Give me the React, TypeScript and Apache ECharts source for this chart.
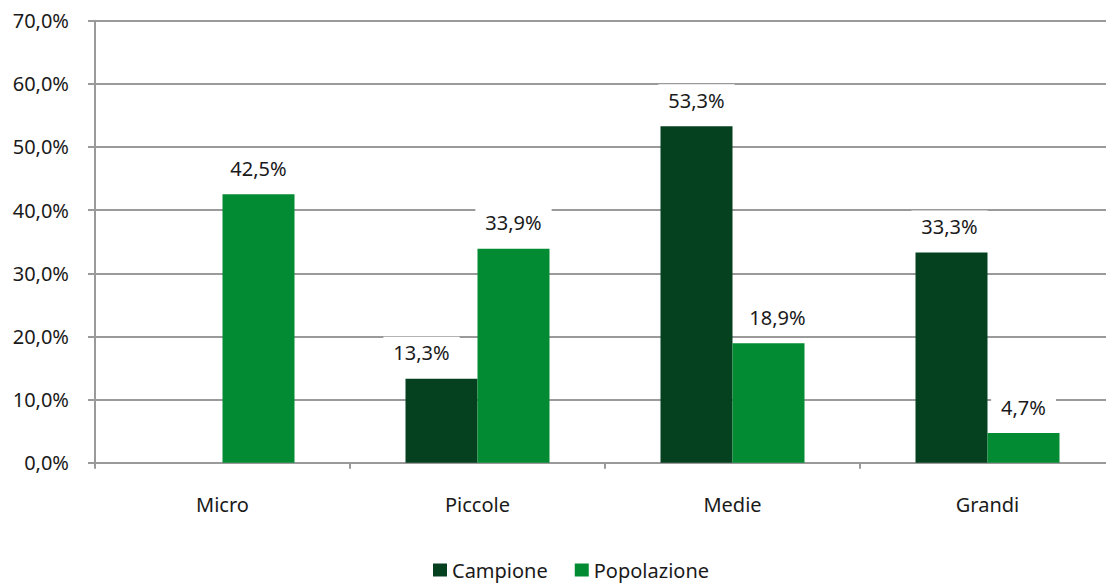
import React, { useEffect, useRef } from "react";
import * as echarts from "echarts";

const categories = ["Micro", "Piccole", "Medie", "Grandi"];
const campione: (number | null)[] = [null, 13.3, 53.3, 33.3];
const popolazione: number[] = [42.5, 33.9, 18.9, 4.7];
const seriesNames = ["Campione", "Popolazione"];
const yTicks = { min: 0, max: 70, interval: 10 };

const COLORS = ["#05401F", "#038B33"];
const FONT = "Noto Sans";
const fmt = (v: number) => v.toFixed(1).replace(".", ",") + "%";

// label horizontal shifts (style only)
const campioneShift = [0, -20, 0, -2];
const popolazioneShift = [0, 0, 9, 0];

export default function App() {
  const ref = useRef<HTMLDivElement>(null);
  useEffect(() => {
    document.body.style.margin = "0";
    const chart = echarts.init(ref.current!, null, { renderer: "svg" });
    const labelBase = {
      show: true,
      position: "top" as const,
      distance: 10,
      fontFamily: FONT,
      fontSize: 20,
      color: "#1a1a1a",
      backgroundColor: "#ffffff",
      padding: [6, 10],
      formatter: (p: any) => fmt(p.value),
    };
    const mk = (vals: (number | null)[], shift: number[]) =>
      vals.map((v, i) => ({
        value: v,
        label: { offset: [shift[i], 0] },
      }));
    chart.setOption({
      animation: false,
      textStyle: { fontFamily: FONT },
      grid: { left: 95, right: 2, top: 20.7, bottom: 122.3, containLabel: false },
      legend: {
        data: seriesNames,
        left: 428,
        top: 555,
        itemWidth: 14,
        itemHeight: 13,
        itemGap: 27,
        icon: "rect",
        textStyle: { fontFamily: FONT, fontSize: 20, color: "#1a1a1a" },
      },
      xAxis: {
        type: "category",
        data: categories,
        axisLine: { lineStyle: { color: "#9a9a9a", width: 2 } },
        axisTick: { show: true, length: 6, alignWithLabel: false, lineStyle: { color: "#9a9a9a", width: 2 } },
        axisLabel: { fontFamily: FONT, fontSize: 20, color: "#1a1a1a", margin: 32 },
      },
      yAxis: {
        type: "value",
        min: yTicks.min,
        max: yTicks.max,
        interval: yTicks.interval,
        axisLine: { show: true, lineStyle: { color: "#9a9a9a", width: 2 } },
        axisTick: { show: true, length: 7, lineStyle: { color: "#9a9a9a", width: 2 } },
        splitLine: { show: true, lineStyle: { color: "#9a9a9a", width: 2 } },
        axisLabel: {
          fontFamily: FONT,
          fontSize: 20,
          color: "#1a1a1a",
          margin: 26,
          formatter: (v: number) => fmt(v),
        },
      },
      series: [
        {
          name: seriesNames[0],
          type: "bar",
          data: mk(campione, campioneShift),
          barWidth: 72,
          barGap: "0%",
          itemStyle: { color: COLORS[0] },
          label: labelBase,
        },
        {
          name: seriesNames[1],
          type: "bar",
          data: mk(popolazione, popolazioneShift),
          barWidth: 72,
          barGap: "0%",
          itemStyle: { color: COLORS[1] },
          label: labelBase,
        },
      ],
    });
    return () => chart.dispose();
  }, []);
  return (
    <div style={{ width: 1106, height: 585, overflow: "hidden" }}>
      <div ref={ref} style={{ width: 1117, height: 585 }} />
    </div>
  );
}
